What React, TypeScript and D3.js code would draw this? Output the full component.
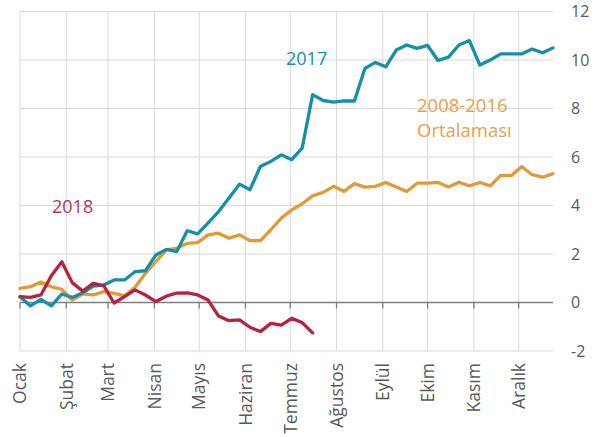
import React from "react";
import * as d3 from "d3";

const months = ["Ocak", "Şubat", "Mart", "Nisan", "Mayıs", "Haziran", "Temmuz", "Ağustos", "Eylül", "Ekim", "Kasım", "Aralık"];
const monthStartDays = [0, 31, 59, 90, 120, 151, 181, 212, 243, 273, 304, 334];
const yTicks = [-2, 0, 2, 4, 6, 8, 10, 12];

const series2017 = [
  0.24, -0.14, 0.13, -0.14, 0.35, 0.21, 0.4, 0.68, 0.72, 0.93, 0.93, 1.27, 1.31, 1.96, 2.19, 2.1, 2.96, 2.83,
  3.28, 3.75, 4.31, 4.88, 4.65, 5.61, 5.82, 6.09, 5.89, 6.37, 8.57, 8.33, 8.26, 8.31, 8.31,
  9.65, 9.9, 9.72, 10.41, 10.62, 10.48, 10.6, 9.98, 10.12, 10.62, 10.8, 9.79, 10.0, 10.25, 10.25, 10.25, 10.45, 10.3, 10.5,
];
const seriesAvg = [
  0.58, 0.65, 0.84, 0.65, 0.54, 0.1, 0.36, 0.31, 0.45, 0.38, 0.27, 0.63, 1.2, 1.68, 2.17, 2.24, 2.44, 2.47,
  2.79, 2.86, 2.65, 2.79, 2.55, 2.55, 3.0, 3.48, 3.82, 4.07, 4.4, 4.54, 4.79, 4.58, 4.9, 4.76, 4.79, 4.95,
  4.76, 4.58, 4.92, 4.92, 4.95, 4.76, 4.96, 4.81, 4.95, 4.81, 5.24, 5.23, 5.61, 5.27, 5.17, 5.31,
];
const series2018 = [
  0.24, 0.21, 0.31, 1.1, 1.68, 0.82, 0.47, 0.79, 0.7, -0.02, 0.24, 0.52, 0.31, 0.04, 0.26, 0.39, 0.4, 0.31,
  0.1, -0.56, -0.75, -0.72, -1.02, -1.2, -0.86, -0.93, -0.65, -0.83, -1.25,
];

const BLUE = "#168fa9";
const ORANGE = "#e39a36";
const RED = "#b5243e";
const FONT = "'Open Sans', sans-serif";

export default function App() {
  const x = d3.scaleLinear().domain([0, 51]).range([20, 553]);
  const y = d3.scaleLinear().domain([-2, 12]).range([351, 11.5]);
  const line = d3
    .line<number>()
    .x((_, i) => x(i))
    .y((d) => y(d));
  const monthPos = monthStartDays.map((d) => x(d / 7));

  return (
    <svg width={600} height={437} style={{ position: "absolute", left: 0, top: 0, background: "#fff" }}>
      {yTicks.map((t) =>
        t === 0 ? null : (
          <line key={"h" + t} x1={20} x2={553} y1={y(t)} y2={y(t)} stroke="#d9d9d9" strokeWidth={1} />
        )
      )}
      {monthPos.map((p, i) => (
        <line key={"v" + i} x1={p} x2={p} y1={y(12)} y2={y(-2)} stroke="#d9d9d9" strokeWidth={1} />
      ))}
      <line x1={20} x2={553} y1={y(0)} y2={y(0)} stroke="#7f7f7f" strokeWidth={1.3} />
      {monthPos.map((p, i) => (
        <line key={"t" + i} x1={p} x2={p} y1={y(0)} y2={y(0) + 6} stroke="#7f7f7f" strokeWidth={1.3} />
      ))}
      {yTicks.map((t) => (
        <text key={"yl" + t} x={571} y={y(t)} dy="0.36em" fontSize={16} fill="#595959" fontFamily={FONT}>
          {t}
        </text>
      ))}
      {months.map((m, i) => (
        <text
          key={"m" + i}
          transform={`translate(${monthPos[i]},363) rotate(-90)`}
          textAnchor="end"
          dy="0.36em"
          fontSize={17.5}
          fill="#595959"
          fontFamily={FONT}
        >
          {m}
        </text>
      ))}
      <path d={line(seriesAvg) || ""} fill="none" stroke={ORANGE} strokeWidth={3.3} strokeLinejoin="round" strokeLinecap="round" />
      <path d={line(series2017) || ""} fill="none" stroke={BLUE} strokeWidth={3.3} strokeLinejoin="round" strokeLinecap="round" />
      <path d={line(series2018) || ""} fill="none" stroke={RED} strokeWidth={3.3} strokeLinejoin="round" strokeLinecap="round" />
      <text x={286} y={65} fontSize={18} fill={BLUE} fontFamily={FONT}>2017</text>
      <text x={417} y={112} fontSize={18.5} fill="#e8a04a" fontFamily={FONT}>2008-2016</text>
      <text x={417} y={137} fontSize={18.5} fill="#e8a04a" fontFamily={FONT}>Ortalaması</text>
      <text x={52} y={213} fontSize={18} fill="#b8364f" fontFamily={FONT}>2018</text>
    </svg>
  );
}
